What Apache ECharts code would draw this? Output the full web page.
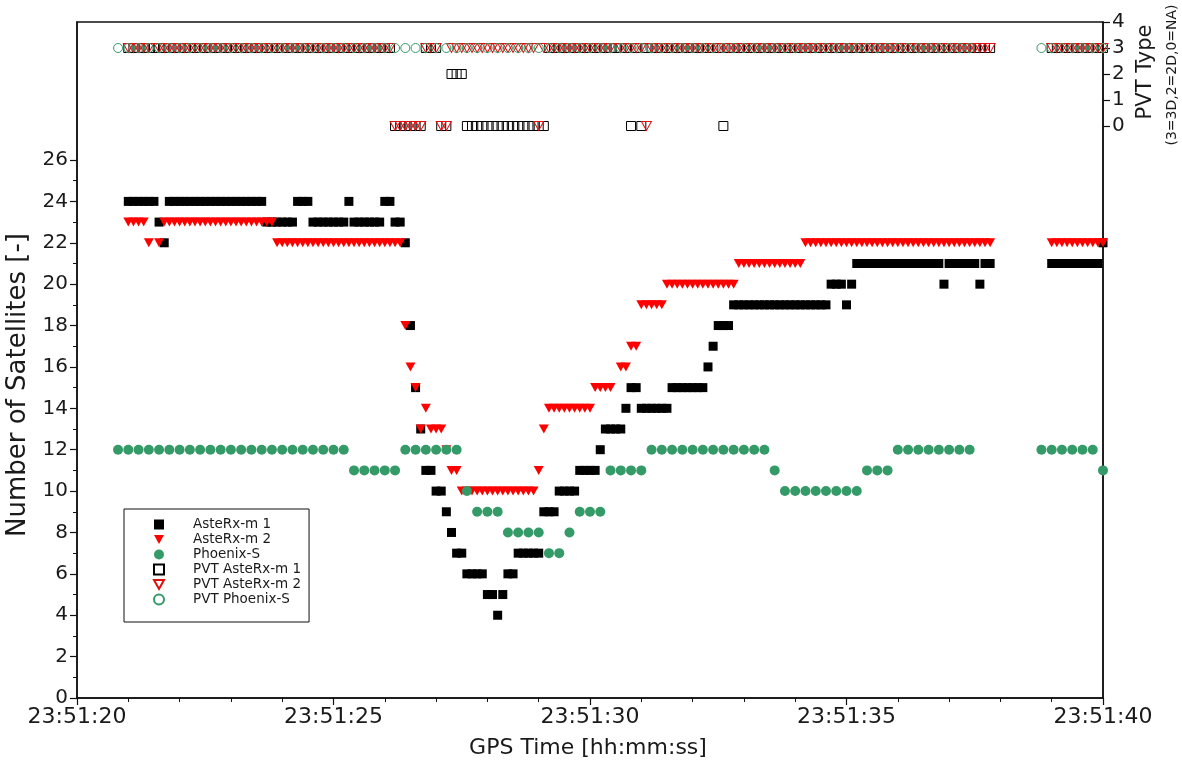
<!DOCTYPE html>
<html>
<head>
<meta charset="utf-8">
<script src="https://cdn.jsdelivr.net/npm/echarts@6/dist/echarts.min.js"></script>
<style>
html,body{margin:0;padding:0;background:#fff;}
#chart{width:1182px;height:764px;}
</style>
</head>
<body>
<div id="chart"></div>
<script>
// ---- sampling grids (seconds after 23:51:00) ----
const asterxStart = 21.0, asterxStep = 0.1;   // AsteRx-m receivers, 10 Hz
const phoenixStart = 20.8, phoenixStep = 0.2; // Phoenix-S, 5 Hz
const timePrefix = '23:51:';
const xTickValues = [20, 25, 30, 35, 40];
const leftTickLabels = [0,2,4,6,8,10,12,14,16,18,20,22,24,26];
const leftMinorTicks = [1,3,5,7,9,11,13,15,17,19,21,23,25];
const rightTickLabels = [0,1,2,3,4];

// ---- number of satellites, AsteRx-m 1 (one row per second, 21.0 ... 40.0) ----
const satAsterx1 = [
  24,24,24,24,24,24,23,22,24,24,
  24,24,24,24,24,24,24,24,24,24,
  24,24,24,24,24,24,24,23,23,23,
  23,23,23,24,24,24,23,23,23,23,
  23,23,23,24,23,23,23,23,23,23,
  24,24,23,23,22,18,15,13,11,11,
  10,10,9,8,7,7,6,6,6,6,
  5,5,4,5,6,6,7,7,7,7,
  7,9,9,9,10,10,10,10,11,11,
  11,11,12,13,13,13,13,14,15,15,
  14,14,14,14,14,14,15,15,15,15,
  15,15,15,16,17,18,18,18,19,19,
  19,19,19,19,19,19,19,19,19,19,
  19,19,19,19,19,19,19,20,20,20,
  19,20,21,21,21,21,21,21,21,21,
  21,21,21,21,21,21,21,21,21,20,
  21,21,21,21,21,21,20,21,21,null,
  null,null,null,null,null,null,null,null,null,null,
  21,21,21,21,21,21,21,21,21,21,
  22
];

// ---- number of satellites, AsteRx-m 2 ----
const satAsterx2 = [
  23,23,23,23,22,null,22,23,23,23,
  23,23,23,23,23,23,23,23,23,23,
  23,23,23,23,23,23,23,23,23,22,
  22,22,22,22,22,22,22,22,22,22,
  22,22,22,22,22,22,22,22,22,22,
  22,22,22,22,18,16,15,13,14,13,
  13,13,12,11,11,10,10,10,10,10,
  10,10,10,10,10,10,10,10,10,10,
  11,13,14,14,14,14,14,14,14,14,
  14,15,15,15,15,null,16,16,17,17,
  19,19,19,19,19,20,20,20,20,20,
  20,20,20,20,20,20,20,20,20,21,
  21,21,21,21,21,21,21,21,21,21,
  21,21,22,22,22,22,22,22,22,22,
  22,22,22,22,22,22,22,22,22,22,
  22,22,22,22,22,22,22,22,22,22,
  22,22,22,22,22,22,22,22,22,null,
  null,null,null,null,null,null,null,null,null,null,
  22,22,22,22,22,22,22,22,22,22,
  22
];

// ---- number of satellites, Phoenix-S (20.8, then one row per second) ----
const satPhoenix = [
  12,
  12,12,12,12,12,
  12,12,12,12,12,
  12,12,12,12,12,
  12,12,12,12,12,
  12,12,11,11,11,
  11,11,12,12,12,
  12,12,12,10,9,
  9,9,8,8,8,
  8,7,7,8,9,
  9,9,11,11,11,
  11,12,12,12,12,
  12,12,12,12,12,
  12,12,12,11,10,
  10,10,10,10,10,
  10,10,11,11,11,
  12,12,12,12,12,
  12,12,12,null,null,
  null,null,null,null,12,
  12,12,12,12,12,
  11
];

// ---- PVT type (3=3D, 2=2D, 0=NA), AsteRx-m 1 ----
const pvtAsterx1 = [
  3,3,3,3,3,3,3,3,3,3,
  3,3,3,3,3,3,3,3,3,3,
  3,3,3,3,3,3,3,3,3,3,
  3,3,3,3,3,3,3,3,3,3,
  3,3,3,3,3,3,3,3,3,3,
  3,3,0,0,0,0,0,0,3,3,
  3,0,0,2,2,2,0,0,0,0,
  0,0,0,0,0,0,0,0,0,0,
  0,0,3,3,3,3,3,3,3,3,
  3,3,3,3,3,3,3,3,0,3,
  0,3,3,3,3,3,3,3,3,3,
  3,3,3,3,3,3,0,3,3,3,
  3,3,3,3,3,3,3,3,3,3,
  3,3,3,3,3,3,3,3,3,3,
  3,3,3,3,3,3,3,3,3,3,
  3,3,3,3,3,3,3,3,3,3,
  3,3,3,3,3,3,3,3,3,null,
  null,null,null,null,null,null,null,null,null,null,
  3,3,3,3,3,3,3,3,3,3,
  3
];

// ---- PVT type, AsteRx-m 2 ----
const pvtAsterx2 = [
  3,3,3,3,3,null,3,3,3,3,
  3,3,3,3,3,3,3,3,3,3,
  3,3,3,3,3,3,3,3,3,3,
  3,3,3,3,3,3,3,3,3,3,
  3,3,3,3,3,3,3,3,3,3,
  3,3,0,0,0,0,0,0,3,3,
  3,0,0,3,3,3,3,3,3,3,
  3,3,3,3,3,3,3,3,3,3,
  0,3,3,3,3,3,3,3,3,3,
  3,3,3,3,3,null,3,3,3,3,
  3,0,3,3,3,3,3,3,3,3,
  3,3,3,3,3,3,3,3,3,3,
  3,3,3,3,3,3,3,3,3,3,
  3,3,3,3,3,3,3,3,3,3,
  3,3,3,3,3,3,3,3,3,3,
  3,3,3,3,3,3,3,3,3,3,
  3,3,3,3,3,3,3,3,3,null,
  null,null,null,null,null,null,null,null,null,null,
  3,3,3,3,3,3,3,3,3,3,
  3
];

// ---- PVT type, Phoenix-S ----
const pvtPhoenix = [
  3,
  3,3,3,3,3, 3,3,3,3,3, 3,3,3,3,3, 3,3,3,3,3,
  3,3,3,3,3, 3,3,3,3,3, 3,3,3,3,3, 3,3,3,3,3,
  3,3,3,3,3, 3,3,3,3,3, 3,3,3,3,3, 3,3,3,3,3,
  3,3,3,3,3, 3,3,3,3,3, 3,3,3,3,3, 3,3,3,3,3,
  3,3,3,null,null,
  null,null,null,null,3,
  3,3,3,3,3,
  3
];

function toPoints(start, step, values) {
  const out = [];
  values.forEach(function (v, i) {
    if (v !== null) out.push([Math.round((start + i * step) * 10) / 10, v]);
  });
  return out;
}

const GREEN = '#349a68';
const RED = '#ff0000';
const TRI_DOWN = 'path://M0,0L10,0L5,9Z';
const FONT = 'DejaVu Sans';
const INK = '#1a1a1a';

const chart = echarts.init(document.getElementById('chart'), null, {renderer: 'canvas'});

const option = {
  animation: false,
  backgroundColor: '#ffffff',
  textStyle: {fontFamily: FONT},
  grid: {left: 77, right: 79, top: 22, bottom: 66, show: true, borderColor: '#111', borderWidth: 1.5, backgroundColor: 'transparent'},
  legend: {
    orient: 'vertical', left: 124, top: 509,
    padding: [8, 8, 15, 29],
    itemWidth: 10, itemHeight: 10, itemGap: 0,
    backgroundColor: '#fff', borderColor: '#111', borderWidth: 1, borderRadius: 0,
    textStyle: {fontFamily: FONT, fontSize: 13.5, lineHeight: 15, color: INK, padding: [0, 0, 0, 24]},
    selectedMode: false,
    data: ['AsteRx-m 1', 'AsteRx-m 2', 'Phoenix-S', 'PVT AsteRx-m 1', 'PVT AsteRx-m 2', 'PVT Phoenix-S']
  },
  xAxis: {
    type: 'value', min: 20, max: 40, interval: 5,
    axisLine: {show: true, onZero: false, lineStyle: {color: '#111', width: 1.5}},
    axisTick: {show: true, length: 7, lineStyle: {color: '#111', width: 1.2}},
    minorTick: {show: true, splitNumber: 5, length: 4, lineStyle: {color: '#111', width: 1}},
    splitLine: {show: false},
    axisLabel: {
      customValues: xTickValues,
      fontFamily: FONT, fontSize: 22, color: INK, margin: 8,
      formatter: function (v) { return timePrefix + v; }
    }
  },
  yAxis: [
    {
      type: 'value', position: 'left', min: 0, max: 32.67, interval: 2,
      axisLine: {show: true, lineStyle: {color: '#111', width: 1.5}},
      axisTick: {show: true, customValues: leftTickLabels, length: 7, lineStyle: {color: '#111', width: 1.2}},
      axisLabel: {customValues: leftTickLabels, fontFamily: FONT, fontSize: 20, color: INK, margin: 9},
      splitLine: {show: false}
    },
    {
      type: 'value', position: 'right', min: -22, max: 4, interval: 1,
      axisLine: {show: true, lineStyle: {color: '#111', width: 1.5}},
      axisTick: {show: true, customValues: rightTickLabels, length: 7, lineStyle: {color: '#111', width: 1.2}},
      axisLabel: {customValues: rightTickLabels, fontFamily: FONT, fontSize: 20, color: INK, margin: 9},
      splitLine: {show: false}
    },
    {
      type: 'value', position: 'left', min: 0, max: 32.67, interval: 2,
      axisLine: {show: false},
      axisTick: {show: true, customValues: leftMinorTicks, length: 4, lineStyle: {color: '#111', width: 1}},
      axisLabel: {show: false},
      splitLine: {show: false}
    }
  ],
  graphic: [
    {type: 'text', x: 18, y: 385, rotation: Math.PI / 2,
     style: {text: 'Number of Satellites [-]', fontFamily: FONT, fontSize: 26, fill: INK, textAlign: 'center', textVerticalAlign: 'middle'}},
    {type: 'text', x: 588, y: 748,
     style: {text: 'GPS Time [hh:mm:ss]', fontFamily: FONT, fontSize: 22, fill: INK, textAlign: 'center', textVerticalAlign: 'middle'}},
    {type: 'text', x: 1146, y: 72, rotation: Math.PI / 2,
     style: {text: 'PVT Type', fontFamily: FONT, fontSize: 21, fill: INK, textAlign: 'center', textVerticalAlign: 'middle'}},
    {type: 'text', x: 1172, y: 75, rotation: Math.PI / 2,
     style: {text: '(3=3D,2=2D,0=NA)', fontFamily: FONT, fontSize: 14, fill: INK, textAlign: 'center', textVerticalAlign: 'middle'}}
  ],
  series: [
    {name: 'AsteRx-m 1', type: 'scatter', yAxisIndex: 0, symbol: 'rect', symbolSize: 9,
     itemStyle: {color: '#000', opacity: 1, borderWidth: 0}, data: toPoints(asterxStart, asterxStep, satAsterx1)},
    {name: 'AsteRx-m 2', type: 'scatter', yAxisIndex: 0, symbol: TRI_DOWN, symbolSize: [10, 9],
     itemStyle: {color: RED, opacity: 1, borderWidth: 0}, data: toPoints(asterxStart, asterxStep, satAsterx2)},
    {name: 'Phoenix-S', type: 'scatter', yAxisIndex: 0, symbol: 'circle', symbolSize: 10,
     itemStyle: {color: GREEN, opacity: 1, borderWidth: 0}, data: toPoints(phoenixStart, phoenixStep, satPhoenix)},
    {name: 'PVT AsteRx-m 1', type: 'scatter', yAxisIndex: 1, symbol: 'rect', symbolSize: 9,
     itemStyle: {color: 'rgba(0,0,0,0)', borderColor: '#000', borderWidth: 1, opacity: 1}, data: toPoints(asterxStart, asterxStep, pvtAsterx1)},
    {name: 'PVT AsteRx-m 2', type: 'scatter', yAxisIndex: 1, symbol: TRI_DOWN, symbolSize: [10, 9],
     itemStyle: {color: 'rgba(0,0,0,0)', borderColor: '#e01010', borderWidth: 1, opacity: 1}, data: toPoints(asterxStart, asterxStep, pvtAsterx2)},
    {name: 'PVT Phoenix-S', type: 'scatter', yAxisIndex: 1, symbol: 'circle', symbolSize: 9,
     itemStyle: {color: 'rgba(0,0,0,0)', borderColor: GREEN, borderWidth: 1, opacity: 1}, data: toPoints(phoenixStart, phoenixStep, pvtPhoenix)}
  ]
};
chart.setOption(option);
</script>
</body>
</html>
